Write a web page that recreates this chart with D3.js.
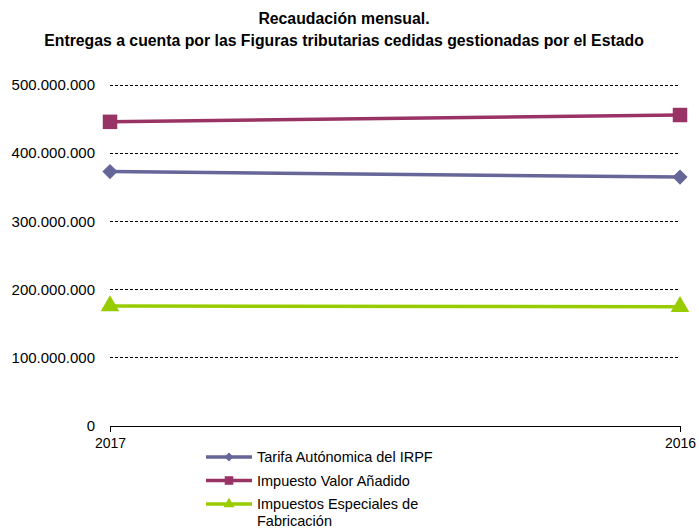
<!DOCTYPE html>
<html>
<head>
<meta charset="utf-8">
<script src="https://cdn.jsdelivr.net/npm/d3@7"></script>
<style>
  body { margin: 0; background: #fff; }
  text { font-family: "Liberation Sans", Arial, sans-serif; fill: #000; }
</style>
</head>
<body>
<svg id="chart"></svg>
<script>
// data
const years = ['2017', '2016'];
const irpf = [373000000, 365000000];
const iva = [446000000, 456000000];
const iiee = [176000000, 175000000];
const yTicks = [0, 100000000, 200000000, 300000000, 400000000, 500000000];
const seriesNames = ['Tarifa Autónomica del IRPF', 'Impuesto Valor Añadido', 'Impuestos Especiales de Fabricación'];

const width = 699, height = 530;
const margin = {top: 85, right: 19, bottom: 104, left: 110};
const innerW = width - margin.left - margin.right;
const innerH = height - margin.top - margin.bottom;

const svg = d3.select('#chart')
    .attr('width', width)
    .attr('height', height);

// title
const title = svg.append('text')
    .attr('text-anchor', 'middle')
    .style('font-weight', 'bold')
    .style('font-size', '15.8px');
title.append('tspan').attr('x', 344).attr('y', 24).text('Recaudación mensual.');
title.append('tspan').attr('x', 344).attr('y', 46).text('Entregas a cuenta por las Figuras tributarias cedidas gestionadas por el Estado');

const chart = svg.append('g')
    .attr('transform', `translate(${margin.left},${margin.top})`);

const xScale = d3.scalePoint()
    .domain(years)
    .range([0, innerW]);

const yScale = d3.scaleLinear()
    .domain([0, 500000000])
    .range([innerH, 0]);

const fmt = d => d3.format(',')(d).replace(/,/g, '.');

// gridlines
chart.selectAll('.grid')
    .data(yTicks)
    .join('line')
    .attr('class', 'grid')
    .attr('x1', 0)
    .attr('x2', innerW)
    .attr('y1', d => yScale(d))
    .attr('y2', d => yScale(d))
    .attr('stroke', '#000')
    .attr('stroke-width', 1)
    .attr('stroke-dasharray', '3,2')
    .attr('shape-rendering', 'crispEdges');

// y labels
chart.selectAll('.ylab')
    .data(yTicks)
    .join('text')
    .attr('class', 'ylab')
    .attr('x', -15)
    .attr('y', d => yScale(d))
    .attr('dy', '0.35em')
    .attr('text-anchor', 'end')
    .style('font-size', '15px')
    .text(fmt);

// x axis
const xAxis = d3.axisBottom(xScale).tickSize(6).tickSizeOuter(0);
const xAxisG = chart.append('g')
    .attr('transform', `translate(0,${innerH})`)
    .call(xAxis);
xAxisG.select('.domain').attr('stroke', '#000').attr('shape-rendering', 'crispEdges');
xAxisG.selectAll('.tick line').attr('stroke', '#000').attr('shape-rendering', 'crispEdges');
xAxisG.selectAll('.tick text')
    .attr('y', 12)
    .style('font-size', '14px')
    .style('font-family', '"Liberation Sans", Arial, sans-serif')
    .attr('fill', '#000');

// series
const series = [
    {name: seriesNames[0], values: irpf, color: '#666699', symbol: d3.symbolSquare, size: 115, rotate: 45},
    {name: seriesNames[1], values: iva, color: '#993366', symbol: d3.symbolSquare, size: 210, rotate: 0},
    {name: seriesNames[2], values: iiee, color: '#99cc00', symbol: d3.symbolTriangle, size: 150, rotate: 0}
];

const line = d3.line()
    .x((d, i) => xScale(years[i]))
    .y(d => yScale(d));

series.forEach(s => {
    chart.append('path')
        .datum(s.values)
        .attr('fill', 'none')
        .attr('stroke', s.color)
        .attr('stroke-width', 3.5)
        .attr('d', line);
    chart.selectAll(null)
        .data(s.values)
        .join('path')
        .attr('transform', (d, i) => `translate(${xScale(years[i])},${yScale(d)}) rotate(${s.rotate})`)
        .attr('d', d3.symbol().type(s.symbol).size(s.size))
        .attr('fill', s.color);
});

// legend
const legend = svg.append('g')
    .attr('transform', 'translate(206,457)');
const rowH = 23.5;
series.forEach((s, i) => {
    const g = legend.append('g').attr('transform', `translate(0,${i * rowH})`);
    g.append('line')
        .attr('x1', 0).attr('x2', 46)
        .attr('stroke', s.color)
        .attr('stroke-width', 3.5);
    g.append('path')
        .attr('transform', `translate(23,0) rotate(${s.rotate})`)
        .attr('d', d3.symbol().type(s.symbol).size(s.size * 0.35))
        .attr('fill', s.color);
    const t = g.append('text')
        .attr('x', 51)
        .attr('y', 0)
        .attr('dy', '0.35em')
        .style('font-size', '14.5px');
    if (i === 2) {
        t.append('tspan').attr('x', 51).text('Impuestos Especiales de');
        t.append('tspan').attr('x', 51).attr('dy', '1.2em').text('Fabricación');
    } else {
        t.text(s.name);
    }
});
</script>
</body>
</html>
